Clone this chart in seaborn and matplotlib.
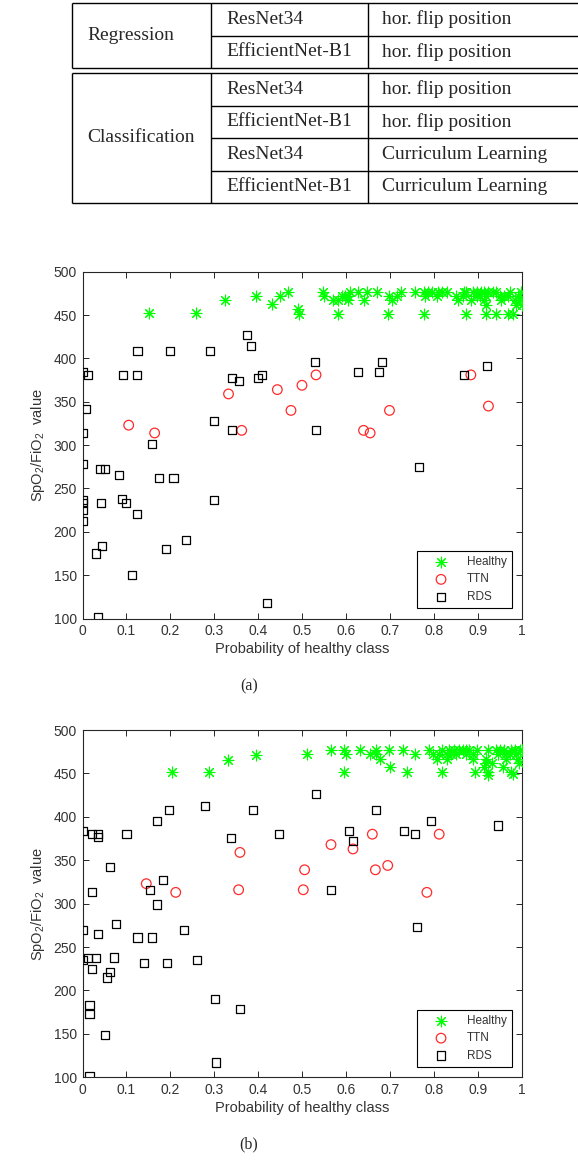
import numpy as np
import pandas as pd
import matplotlib
matplotlib.use("Agg")
import matplotlib.pyplot as plt
import seaborn as sns

# ---------------- data ----------------
table_groups = ["Regression", "Classification"]
table_models = [["ResNet34", "EfficientNet-B1"],
                ["ResNet34", "EfficientNet-B1", "ResNet34", "EfficientNet-B1"]]
table_methods = [["hor. flip position", "hor. flip position"],
                 ["hor. flip position", "hor. flip position",
                  "Curriculum Learning", "Curriculum Learning"]]

x_ticks = [0, 0.1, 0.2, 0.3, 0.4, 0.5, 0.6, 0.7, 0.8, 0.9, 1]
x_tick_labels = ["0", "0.1", "0.2", "0.3", "0.4", "0.5", "0.6", "0.7", "0.8", "0.9", "1"]
y_ticks = [100, 150, 200, 250, 300, 350, 400, 450, 500]

# panel (a)
healthy_a_x = [0.152, 0.258, 0.325, 0.395, 0.430, 0.448, 0.467, 0.489, 0.492,
               0.546, 0.609, 0.627, 0.646, 0.670, 0.725, 0.756, 0.776, 0.786, 0.794, 0.809, 0.818,
               0.828, 0.867, 0.873, 0.888, 0.896, 0.907, 0.914, 0.922, 0.934, 0.941, 0.971, 0.998,
               0.549, 0.589, 0.597, 0.604, 0.697, 0.714, 0.778, 0.805, 0.850, 0.865, 0.896, 0.903,
               0.918, 0.949, 0.958, 0.967, 0.990,
               0.570, 0.581, 0.604, 0.640, 0.703, 0.854, 0.884, 0.914, 0.952, 0.983, 0.994,
               0.918, 0.986, 1.000,
               0.581, 0.695, 0.776, 0.871, 0.918, 0.941, 0.967, 0.979]
healthy_a_y = [452, 452, 467, 472, 463, 472, 477, 457, 451,
               477, 477, 477, 477, 477, 477, 477, 477, 477, 477, 477, 477,
               477, 477, 477, 477, 477, 477, 477, 477, 477, 477, 477, 477,
               472, 472, 472, 472, 472, 472, 472, 472, 472, 472, 472, 472,
               472, 472, 472, 472, 472,
               467, 467, 467, 467, 467, 467, 467, 467, 467, 467, 467,
               462, 462, 462,
               451, 451, 451, 451, 451, 451, 451, 451]
ttn_a_x = [0.105, 0.164, 0.332, 0.362, 0.443, 0.474, 0.499, 0.531, 0.639, 0.654, 0.698, 0.883, 0.923]
ttn_a_y = [323, 314, 359, 317, 364, 340, 369, 381, 317, 314, 340, 381, 345]
rds_a_x = [0.000, 0.012, 0.093, 0.124, 0.125, 0.199, 0.290, 0.374, 0.384, 0.339, 0.355, 0.399,
           0.408, 0.529, 0.008, 0.000, 0.159, 0.298, 0.339, 0.531, 0.626, 0.674, 0.681, 0.868,
           0.919, 0.002, 0.040, 0.052, 0.083, 0.174, 0.207, 0.000, 0.000, 0.042, 0.090, 0.098,
           0.124, 0.299, 0.000, 0.000, 0.030, 0.045, 0.190, 0.236, 0.112, 0.036, 0.420, 0.766]
rds_a_y = [384, 381, 381, 381, 409, 409, 409, 427, 414, 377, 374, 377,
           381, 396, 342, 314, 301, 328, 317, 317, 384, 384, 396, 381,
           391, 278, 272, 272, 266, 262, 262, 237, 233, 233, 238, 233,
           221, 237, 225, 212, 175, 184, 180, 191, 150, 102, 118, 275]

# panel (b)
healthy_b_x = [0.203, 0.288, 0.330, 0.394,
               0.566, 0.595, 0.630, 0.667, 0.697, 0.729, 0.788, 0.818, 0.834, 0.844, 0.856, 0.865,
               0.873, 0.879, 0.896, 0.922, 0.941, 0.949, 0.958, 0.975, 0.983, 0.994, 1.000,
               0.511, 0.600, 0.653, 0.667, 0.757, 0.797, 0.811, 0.828, 0.839, 0.850, 0.873, 0.888,
               0.945, 0.962, 0.971, 0.986,
               0.676, 0.805, 0.828, 0.888, 0.918, 0.964, 0.990,
               0.918, 0.932, 0.992,
               0.699, 0.914, 0.956,
               0.595, 0.737, 0.818, 0.892, 0.922, 0.975, 0.922, 0.979]
healthy_b_y = [452, 452, 466, 471,
               477, 477, 477, 477, 477, 477, 477, 477, 477, 477, 477, 477,
               477, 477, 477, 477, 477, 477, 477, 477, 477, 477, 477,
               472, 472, 472, 472, 472, 472, 472, 472, 472, 472, 472, 472,
               472, 472, 472, 472,
               467, 467, 467, 467, 467, 467, 467,
               462, 462, 462,
               457, 457, 457,
               452, 452, 452, 452, 452, 452, 448, 449]
ttn_b_x = [0.145, 0.212, 0.358, 0.355, 0.505, 0.502, 0.565, 0.615, 0.659, 0.666, 0.694, 0.811, 0.783]
ttn_b_y = [323, 313, 359, 316, 339, 316, 368, 363, 380, 339, 344, 380, 313]
rds_b_x = [0.000, 0.021, 0.035, 0.036, 0.100, 0.169, 0.196, 0.279, 0.387, 0.337, 0.446, 0.530,
           0.063, 0.021, 0.154, 0.183, 0.169, 0.667, 0.605, 0.615, 0.730, 0.757, 0.793, 0.945,
           0.565, 0.002, 0.036, 0.077, 0.125, 0.158, 0.231, 0.000, 0.012, 0.030, 0.072, 0.140,
           0.193, 0.261, 0.021, 0.063, 0.055, 0.016, 0.016, 0.302, 0.358, 0.052, 0.304, 0.016,
           0.761]
rds_b_y = [384, 380, 380, 377, 380, 395, 408, 412, 408, 376, 380, 426,
           342, 313, 316, 327, 299, 408, 384, 372, 384, 380, 395, 390,
           316, 270, 265, 277, 261, 261, 270, 235, 237, 237, 238, 232,
           232, 235, 225, 221, 215, 183, 173, 190, 179, 149, 117, 101,
           273]

# ---------------- style ----------------
sns.set_style("ticks")
plt.rcParams["font.family"] = ["Liberation Sans", "DejaVu Sans"]
plt.rcParams["mathtext.fontset"] = "custom"
plt.rcParams["mathtext.rm"] = "Liberation Sans"
plt.rcParams["mathtext.it"] = "Liberation Sans:italic"
plt.rcParams["mathtext.default"] = "regular"

W, H = 578, 1172
fig = plt.figure(figsize=(W / 100, H / 100), dpi=100)

# ---------------- table ----------------
axt = fig.add_axes([0, 1 - 210 / H, 1, 210 / H])
axt.set_xlim(0, W)
axt.set_ylim(210, 0)
axt.axis("off")
serif = ["Liberation Serif", "DejaVu Serif"]
row_h = 32.5
group_tops = [3, 73]
x_left, x_c1, x_c2, x_right = 72, 211, 368, 620
for g, top in enumerate(group_tops):
    n = len(table_models[g])
    bottom = top + n * row_h
    lk = dict(color="black", lw=1.0, solid_capstyle="butt")
    axt.plot([x_left, x_right], [top, top], **lk)
    axt.plot([x_left, x_right], [bottom, bottom], **lk)
    axt.plot([x_left, x_left], [top, bottom], **lk)
    axt.plot([x_c1, x_c1], [top, bottom], **lk)
    axt.plot([x_c2, x_c2], [top, bottom], **lk)
    for r in range(1, n):
        yy = top + r * row_h
        axt.plot([x_c1, x_right], [yy, yy], **lk)
    axt.text(87, (top + bottom) / 2, table_groups[g], family=serif, fontsize=14,
             ha="left", va="center", clip_on=True)
    for r in range(n):
        yc = top + (r + 0.5) * row_h
        axt.text(226.5, yc, table_models[g][r], family=serif, fontsize=14,
                 ha="left", va="center", clip_on=True)
        axt.text(381.5, yc, table_methods[g][r], family=serif, fontsize=14,
                 ha="left", va="center", clip_on=True)

# ---------------- scatter panels ----------------
def panel(ax, hx, hy, tx, ty, rx, ry):
    sns.scatterplot(x=hx, y=hy, ax=ax, marker=(8, 2, 0), color="#00ff00",
                    s=60, linewidth=0.8, label="Healthy", legend=False, zorder=3)
    sns.scatterplot(x=tx, y=ty, ax=ax, marker="o", facecolor="none",
                    edgecolor="#ff2a2a", s=48, linewidth=0.9, label="TTN", legend=False, zorder=3)
    sns.scatterplot(x=rx, y=ry, ax=ax, marker="s", facecolor="none",
                    edgecolor="black", s=34, linewidth=0.9, label="RDS", legend=False, zorder=3)
    ax.set_xlim(0, 1)
    ax.set_ylim(100, 500)
    ax.set_xticks(x_ticks)
    ax.set_xticklabels(x_tick_labels)
    ax.set_yticks(y_ticks)
    ax.tick_params(direction="in", top=True, right=True, length=4.5, width=0.7,
                   labelsize=10, labelcolor="#333333", color="#262626", pad=4)
    for sp in ax.spines.values():
        sp.set_visible(True)
        sp.set_linewidth(0.8)
        sp.set_color("#262626")
    ax.set_xlabel("Probability of healthy class", fontsize=10.5, color="#333333", labelpad=3)
    ax.set_ylabel("SpO$_2$/FiO$_2$  value", fontsize=10.5, color="#333333", labelpad=5)
    leg = ax.legend(loc="lower right", bbox_to_anchor=(0.977, 0.03), fontsize=8.5,
                    frameon=True, fancybox=False, framealpha=1, edgecolor="black",
                    handlelength=3.2, handletextpad=0.6, labelspacing=0.45,
                    borderpad=0.45, scatterpoints=1, borderaxespad=0)
    leg.get_frame().set_linewidth(0.8)
    for t in leg.get_texts():
        t.set_color("#333333")
    leg.set_zorder(5)

ax_a = fig.add_axes([82.5 / W, 1 - 618.5 / H, 439.8 / W, 346.8 / H])
panel(ax_a, healthy_a_x, healthy_a_y, ttn_a_x, ttn_a_y, rds_a_x, rds_a_y)
ax_b = fig.add_axes([82.5 / W, 1 - 1077.3 / H, 439.8 / W, 347.3 / H])
panel(ax_b, healthy_b_x, healthy_b_y, ttn_b_x, ttn_b_y, rds_b_x, rds_b_y)

fig.text(249 / W, 1 - 686 / H, "(a)", family=serif, fontsize=11.5, ha="center", va="center")
fig.text(249 / W, 1 - 1144 / H, "(b)", family=serif, fontsize=11.5, ha="center", va="center")

fig.savefig("out.png", dpi=100)
